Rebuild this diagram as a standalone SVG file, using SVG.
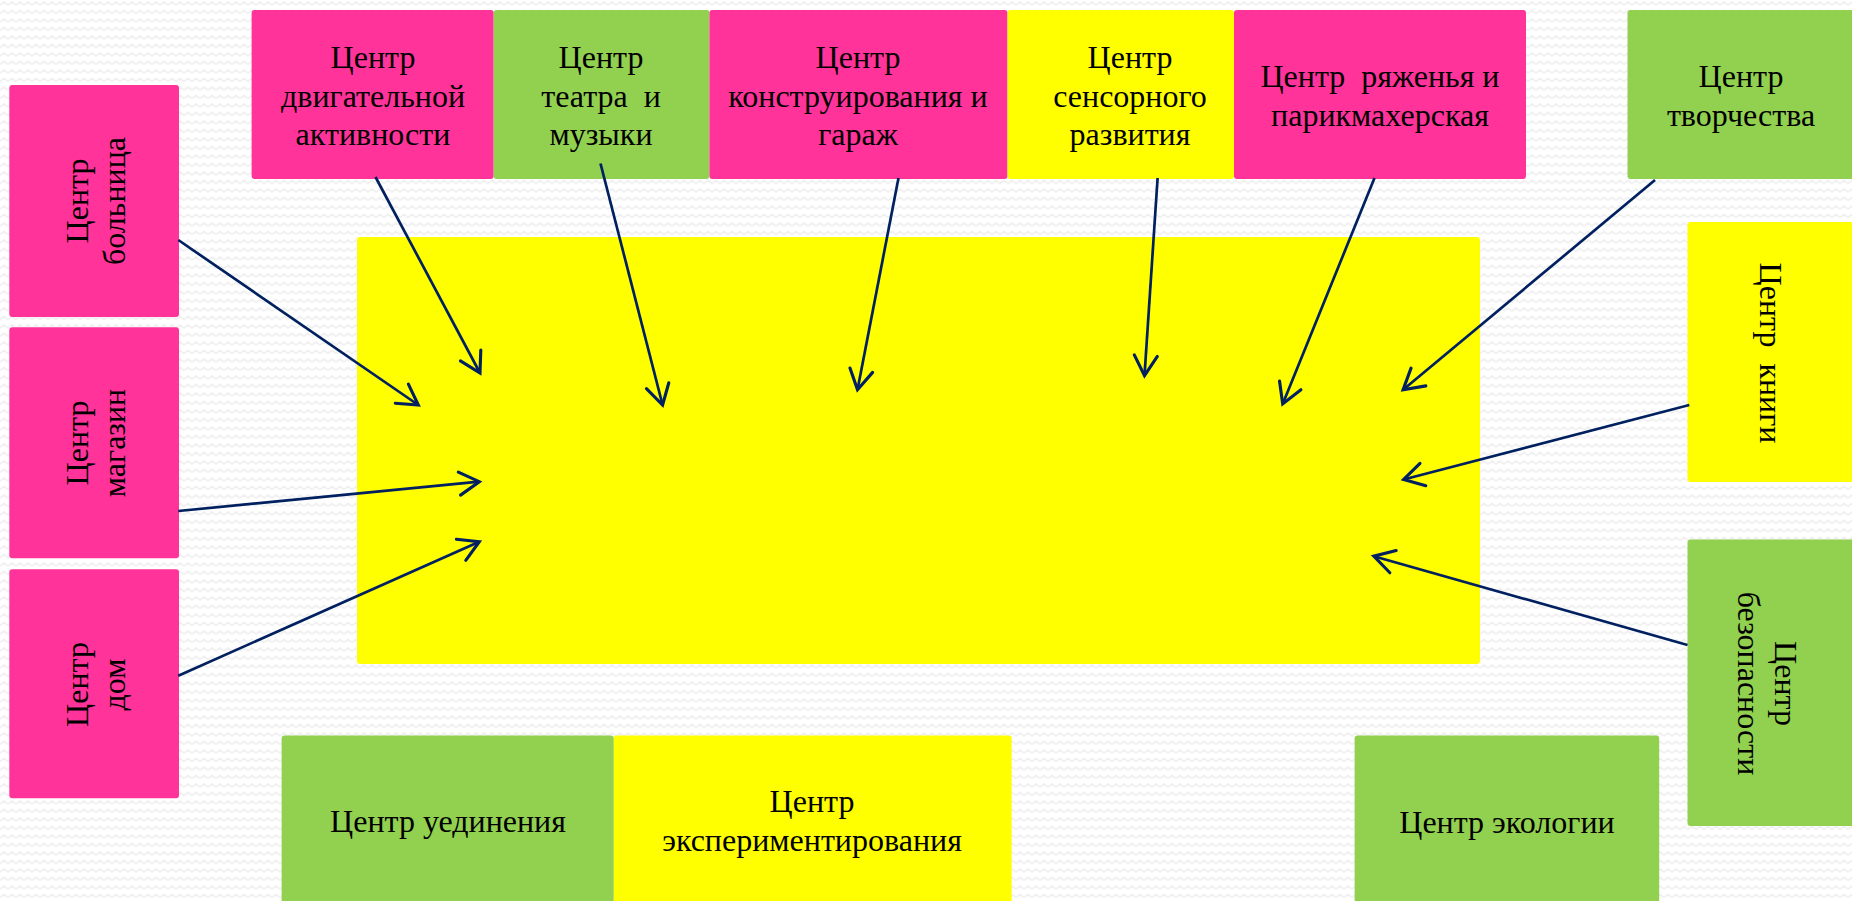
<svg xmlns="http://www.w3.org/2000/svg" width="1852" height="901" viewBox="0 0 1852 901">
<defs>
  <pattern id="bg" width="16" height="8.5" patternUnits="userSpaceOnUse">
    <path d="M0,5 L4,2 L8,5 L12,2 L16,5" fill="none" stroke="#efefef" stroke-width="1.6"/>
  </pattern>
  <marker id="arr" markerUnits="userSpaceOnUse" markerWidth="30" markerHeight="30" viewBox="-22 -13 26 26" refX="0" refY="0" orient="auto">
    <path d="M-17.3,-10 L0,0 L-17.3,10" fill="none" stroke="#002060" stroke-width="2.7" stroke-linecap="round" stroke-linejoin="miter"/>
  </marker>
</defs>
<style>
  .pink{fill:#FF3399}
  .green{fill:#92D050}
  .yellow{fill:#FFFF00}
  text{font-family:"Liberation Serif","Times New Roman",serif;font-size:32px;fill:#000;text-anchor:middle}
  .con line{stroke:#002060;stroke-width:2.7;marker-end:url(#arr)}
</style>
<rect width="1852" height="901" fill="#ffffff"/>
<rect width="1852" height="901" fill="url(#bg)"/>

<g id="center"><rect class="yellow" x="357" y="237" width="1123" height="427" rx="3"/></g>

<g id="n-motor"><rect class="pink" x="251.6" y="10" width="242.1" height="169" rx="3"/>
  <text><tspan x="373" y="68">Центр</tspan><tspan x="373" y="106.5">двигательной</tspan><tspan x="373" y="145">активности</tspan></text></g>
<g id="n-theatre"><rect class="green" x="493.7" y="10" width="215.7" height="169" rx="3"/>
  <text><tspan x="601" y="68">Центр</tspan><tspan x="601" y="106.5" xml:space="preserve">театра  и</tspan><tspan x="601" y="145">музыки</tspan></text></g>
<g id="n-construct"><rect class="pink" x="709.4" y="10" width="298.1" height="169" rx="3"/>
  <text><tspan x="858" y="68">Центр</tspan><tspan x="858" y="106.5">конструирования и</tspan><tspan x="858" y="145">гараж</tspan></text></g>
<g id="n-sensor"><rect class="yellow" x="1007.5" y="10" width="226.5" height="169" rx="3"/>
  <text><tspan x="1130" y="68">Центр</tspan><tspan x="1130" y="106.5">сенсорного</tspan><tspan x="1130" y="145">развития</tspan></text></g>
<g id="n-dress"><rect class="pink" x="1234" y="10" width="292" height="169" rx="3"/>
  <text xml:space="preserve"><tspan x="1380" y="87">Центр  ряженья и</tspan><tspan x="1380" y="125.5">парикмахерская</tspan></text></g>
<g id="n-art"><rect class="green" x="1627.5" y="10" width="230" height="169" rx="3"/>
  <text><tspan x="1741" y="87">Центр</tspan><tspan x="1741" y="125.5">творчества</tspan></text></g>

<g id="n-hospital"><rect class="pink" x="9.3" y="85" width="169.7" height="232" rx="3"/>
  <text transform="translate(94,201) rotate(-90)"><tspan x="0" y="-6">Центр</tspan><tspan x="0" y="31">больница</tspan></text></g>
<g id="n-shop"><rect class="pink" x="9.3" y="327.3" width="169.7" height="231" rx="3"/>
  <text transform="translate(94,443) rotate(-90)"><tspan x="0" y="-6">Центр</tspan><tspan x="0" y="31">магазин</tspan></text></g>
<g id="n-home"><rect class="pink" x="9.3" y="569.3" width="169.7" height="229" rx="3"/>
  <text transform="translate(94,684.5) rotate(-90)"><tspan x="0" y="-6">Центр</tspan><tspan x="0" y="31">дом</tspan></text></g>

<g id="n-book"><rect class="yellow" x="1687.5" y="222" width="170" height="260" rx="3"/>
  <text transform="translate(1760,353) rotate(90)" xml:space="preserve"><tspan x="0" y="0">Центр  книги</tspan></text></g>
<g id="n-safety"><rect class="green" x="1687.5" y="539.5" width="170" height="286.5" rx="3"/>
  <text transform="translate(1775,683.5) rotate(90)"><tspan x="0" y="0">Центр</tspan><tspan x="0" y="37">безопасности</tspan></text></g>

<g id="n-solitude"><rect class="green" x="281.6" y="735.5" width="332.2" height="175" rx="3"/>
  <text x="448" y="831.5">Центр уединения</text></g>
<g id="n-experiment"><rect class="yellow" x="613.8" y="735.5" width="397.9" height="175" rx="3"/>
  <text><tspan x="812" y="811.5">Центр</tspan><tspan x="812" y="851">экспериментирования</tspan></text></g>
<g id="n-ecology"><rect class="green" x="1354.6" y="735.5" width="304.6" height="175" rx="3"/>
  <text x="1507" y="832.5">Центр экологии</text></g>

<g id="connectors" class="con">
  <line x1="375.5" y1="177" x2="480" y2="373"/>
  <line x1="178.3" y1="240" x2="418.3" y2="405"/>
  <line x1="600.5" y1="163.5" x2="662.6" y2="405"/>
  <line x1="898.5" y1="178" x2="857.5" y2="389.8"/>
  <line x1="1157.6" y1="178" x2="1144.5" y2="375.6"/>
  <line x1="1374.5" y1="178" x2="1282.7" y2="403.9"/>
  <line x1="1655" y1="180" x2="1403.1" y2="389.8"/>
  <line x1="1689.3" y1="405" x2="1403.6" y2="479.5"/>
  <line x1="1687.5" y1="645" x2="1373.8" y2="556.2"/>
  <line x1="178.3" y1="511" x2="479.3" y2="481.7"/>
  <line x1="178.3" y1="675.7" x2="479.3" y2="541.7"/>
</g>
</svg>
